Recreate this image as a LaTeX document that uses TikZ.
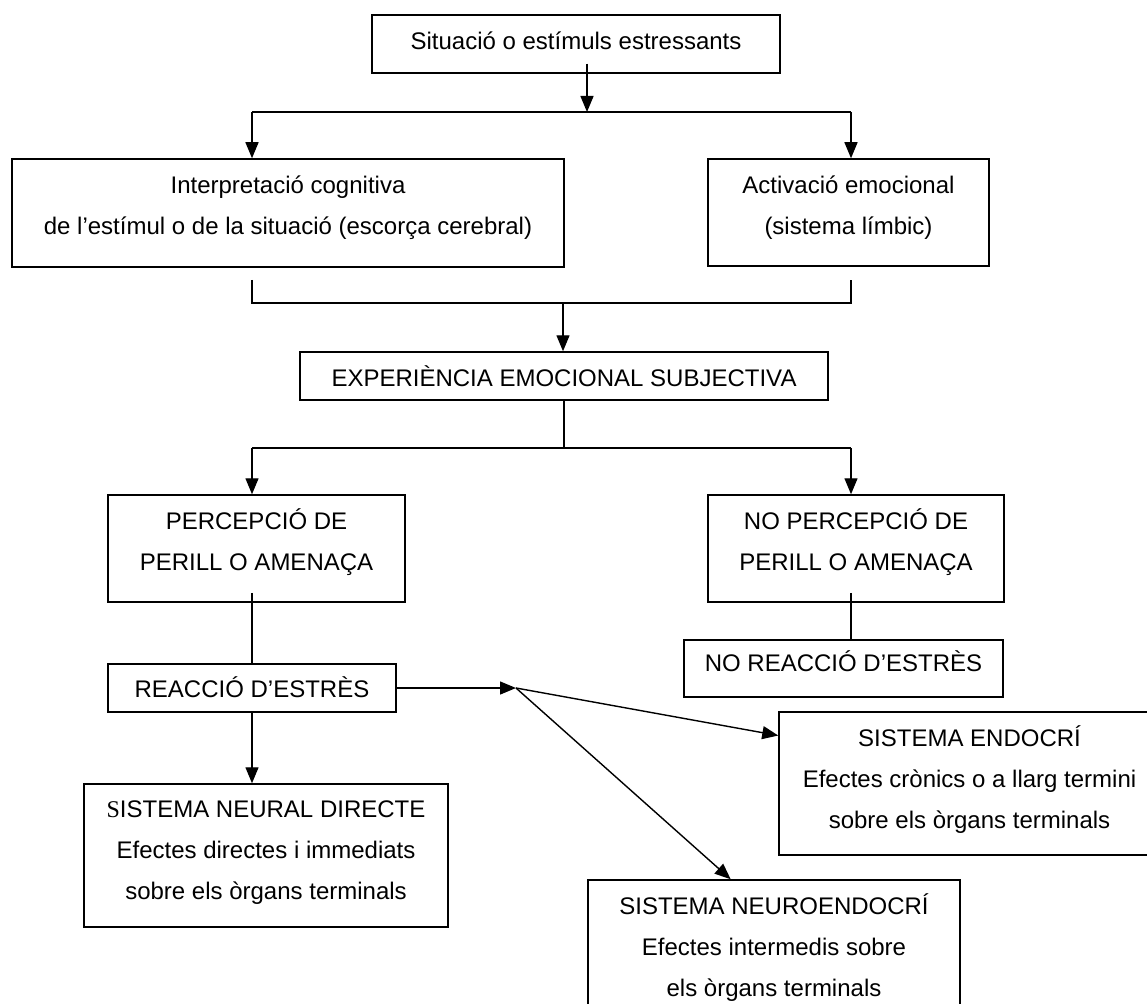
\documentclass[tikz,border=0pt]{standalone}
\usepackage{fontspec}
\setmainfont{Liberation Sans}
\newfontfamily\serifS{Liberation Serif}
\usetikzlibrary{arrows.meta,calc}
\newcommand\myTop[1]{\rule{0pt}{\dimexpr24pt+#1pt\relax}}
\newcommand\myBot[1]{\rule[-\dimexpr8pt+#1pt\relax]{0pt}{\dimexpr8pt+#1pt\relax}}
\begin{document}
\begin{tikzpicture}[x=1pt,y=-1pt,
  box/.style={draw, line width=1.5pt, inner sep=0pt, align=center,
    font=\fontsize{24}{41}\selectfont},
  conn/.style={line width=1.4pt},
  arr/.style={conn, -{Triangle[length=16pt,width=13pt]}}]
\clip (0,0) rectangle (1147,1003);
\fill[white] (0,0) rectangle (1147,1003);

\node[box, minimum width=408pt, minimum height=58pt] (sit) at (576,44)
  {\myTop{0}Situació o estímuls estressants\myBot{5}};
\node[box, minimum width=552pt, minimum height=108pt] (cog) at (288,213)
  {\myTop{0}Interpretació cognitiva\\de l’estímul o de la situació (escorça cerebral)\myBot{14}};
\node[box, minimum width=281pt, minimum height=107pt] (act) at (848.5,212.5)
  {\myTop{0}Activació emocional\\(sistema límbic)\myBot{13}};
\node[box, minimum width=528pt, minimum height=48pt] (exp) at (564,376)
  {\myTop{4}EXPERIÈNCIA EMOCIONAL SUBJECTIVA\myBot{0}};
\node[box, minimum width=297pt, minimum height=107pt] (per) at (256.5,548.5)
  {\myTop{0}PERCEPCIÓ DE\\PERILL O AMENAÇA\myBot{13}};
\node[box, minimum width=296pt, minimum height=107pt] (noper) at (856,548.5)
  {\myTop{0}NO PERCEPCIÓ DE\\PERILL O AMENAÇA\myBot{13}};
\node[box, minimum width=319pt, minimum height=57pt] (noreac) at (843.5,668.5)
  {\myTop{0}NO REACCIÓ D’ESTRÈS\myBot{11}};
\node[box, minimum width=288pt, minimum height=48pt] (reac) at (252,688)
  {\myTop{2}REACCIÓ D’ESTRÈS\myBot{0}};
\node[box, minimum width=364pt, minimum height=143pt] (neural) at (266,855.5)
  {\myTop{0}{\serifS S}ISTEMA NEURAL DIRECTE\\Efectes directes i immediats\\sobre els òrgans terminals\myBot{10}};
\node[box, minimum width=381pt, minimum height=143pt] (endo) at (969.5,783.5)
  {\myTop{0}SISTEMA ENDOCRÍ\\Efectes crònics o a llarg termini\\sobre els òrgans terminals\myBot{8}};
\node[box, minimum width=372pt, minimum height=134pt] (ne) at (774,947)
  {\myTop{0}SISTEMA NEUROENDOCRÍ\\Efectes intermedis sobre\\els òrgans terminals\myBot{0}};

\coordinate (j1) at (587,112);
\coordinate (bl1) at (252,112);
\coordinate (br1) at (851,112);
\draw[arr] ($(sit.south -| j1)+(0,-10)$) -- (j1);
\draw[conn] (bl1) -- (br1);
\draw[arr] (bl1) -- (bl1 |- cog.north);
\draw[arr] (br1) -- (br1 |- act.north);

\coordinate (j2) at (563,303);
\draw[conn] ($(cog.south -| bl1)+(0,12)$) |- (j2) -| ($(act.south -| br1)+(0,13)$);
\draw[arr] (j2) -- (exp.north -| j2);

\coordinate (j3) at (564,448);
\draw[conn] (exp.south) -- (j3);
\draw[conn] (j3 -| bl1) -- (j3 -| br1);
\draw[arr] (j3 -| bl1) -- (per.north -| bl1);
\draw[arr] (j3 -| br1) -- (noper.north -| br1);

\draw[conn] ($(per.south -| bl1)+(0,-10)$) -- (reac.north -| bl1);
\draw[conn] ($(noper.south -| br1)+(0,-10)$) -- (noreac.north -| br1);
\draw[arr] (reac.south -| bl1) -- (neural.north -| bl1);

\coordinate (j4) at (516,688);
\draw[arr] (reac.east) -- (j4);
\draw[arr] (j4) -- ($(endo.north west)!0.168!(endo.south west)$);
\draw[arr] (j4) -- ($(ne.north west)!0.384!(ne.north east)$);
\end{tikzpicture}
\end{document}
